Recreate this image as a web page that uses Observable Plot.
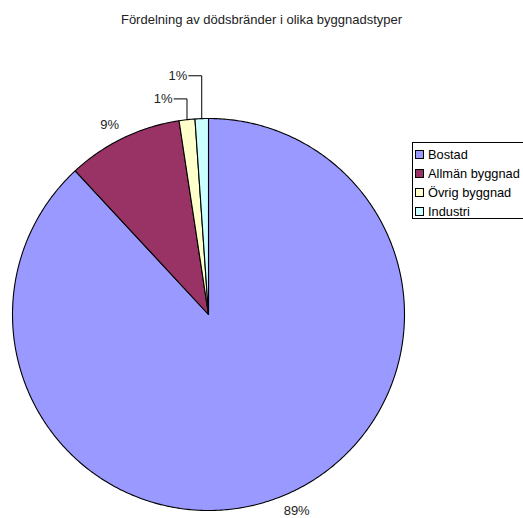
<!DOCTYPE html>
<html><head><meta charset="utf-8">
<script src="https://cdn.jsdelivr.net/npm/d3@7"></script>
<script src="https://cdn.jsdelivr.net/npm/@observablehq/plot@0.6"></script>
<style>
body{margin:0;background:#fff;font-family:"Liberation Sans",Arial,Helvetica,sans-serif;color:#000;}
#wrap{position:relative;width:523px;height:518px;overflow:hidden;}
#chart{position:absolute;left:0;top:0;}
#title{position:absolute;left:0;width:523px;top:12px;text-align:center;font-size:13px;line-height:15px;color:#222;}
#legend{position:absolute;left:412px;top:142px;width:116px;height:77px;border:1px solid #000;box-sizing:border-box;font-size:12.8px;padding-top:2px;background:#fff;}
.item{display:flex;align-items:center;height:19px;white-space:nowrap;}
.sw{width:7px;height:7px;border:1px solid #000;margin:0 4px 0 2px;flex:none;}
</style></head><body>
<div id="wrap"><div id="chart"></div><div id="title"></div><div id="legend"></div></div>
<script>
const title = "Fördelning av dödsbränder i olika byggnadstyper";
const categories = ["Bostad", "Allmän byggnad", "Övrig byggnad", "Industri"];
const shares = [88.1, 9.5, 1.3, 1.1];
const labels = ["89%", "9%", "1%", "1%"];
const colors = ["#9999FF", "#993366", "#FFFFCC", "#CCFFFF"];

const arcs = d3.pie().sort(null).value(d => d)(shares);

// slice outlines in unit-circle coordinates (clockwise from 12 o'clock)
const slices = arcs.map((a, i) => {
  const n = Math.max(4, Math.ceil((a.endAngle - a.startAngle) / 0.01));
  const p = [{x: 0, y: 0}];
  for (let k = 0; k <= n; k++) {
    const t = a.startAngle + (a.endAngle - a.startAngle) * k / n;
    p.push({x: Math.sin(t), y: Math.cos(t)});
  }
  p.push({x: 0, y: 0});
  return p;
});

const mid = a => (a.startAngle + a.endAngle) / 2;
const bigLabels = [], leaders = [], smallLabels = [];
arcs.forEach((a, i) => {
  const m = mid(a);
  if (shares[i] >= 2) {
    const sx = Math.sin(m), sy = Math.cos(m);
    bigLabels.push({
      x: 1.05 * sx, y: 1.05 * sy, label: labels[i],
      anchor: sx >= 0 ? "start" : "end",
      line: sy >= 0 ? "bottom" : "top"
    });
  }
});
const smallIdx = arcs.map((a, i) => i).filter(i => shares[i] < 2).sort((i, j) => mid(arcs[i]) - mid(arcs[j]));
smallIdx.forEach((i, k) => {
  const m = mid(arcs[i]);
  const L = 1.1 + 0.118 * k;
  const x0 = Math.sin(m), y0 = Math.cos(m);
  leaders.push([{x: x0, y: y0}, {x: x0, y: L}, {x: x0 - 0.066, y: L}]);
  smallLabels.push({x: x0 - 0.074, y: L, label: labels[i]});
});

const chart = Plot.plot({
  width: 523,
  height: 518,
  marginLeft: 12,
  marginRight: 119,
  marginTop: 118,
  marginBottom: 8,
  x: {domain: [-1, 1], axis: null},
  y: {domain: [-1, 1], axis: null},
  style: {fontFamily: '"Liberation Sans", Arial, Helvetica, sans-serif', background: "#fff", overflow: "visible"},
  marks: [
    ...slices.map((s, i) => Plot.line(s, {x: "x", y: "y", fill: colors[i], stroke: "#000", strokeWidth: 1.1, strokeLinejoin: "round"})),
    ...leaders.map(l => Plot.line(l, {x: "x", y: "y", stroke: "#000", strokeWidth: 1})),
    ...bigLabels.map(b => Plot.text([b], {x: "x", y: "y", text: "label", textAnchor: b.anchor, lineAnchor: b.line, fontSize: 13, fill: "#222"})),
    Plot.text(smallLabels, {x: "x", y: "y", text: "label", textAnchor: "end", fontSize: 13, fill: "#222"})
  ]
});
document.getElementById("chart").appendChild(chart);
document.getElementById("title").textContent = title;
const lg = document.getElementById("legend");
categories.forEach((c, i) => {
  const d = document.createElement("div");
  d.className = "item";
  d.innerHTML = `<span class="sw" style="background:${colors[i]}"></span><span>${c}</span>`;
  lg.appendChild(d);
});
</script>
</body></html>
